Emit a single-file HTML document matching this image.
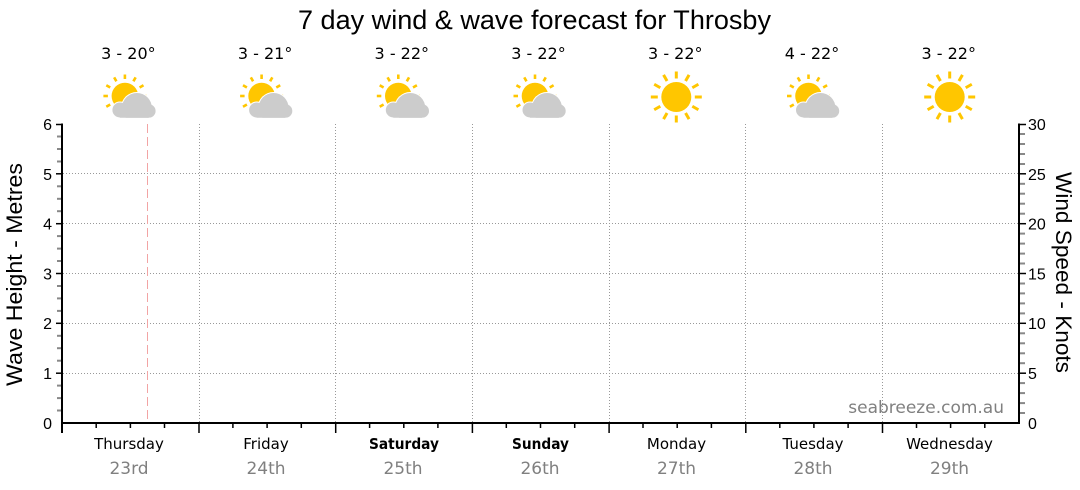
<!DOCTYPE html>
<html>
<head>
<meta charset="utf-8">
<style>
  html, body { margin: 0; padding: 0; background: #ffffff; }
  svg { display: block; }
  .lib { font-family: "Liberation Sans", Arial, sans-serif; }
  .dv { font-family: "DejaVu Sans", Verdana, sans-serif; }
</style>
</head>
<body>
<svg width="1080" height="490" viewBox="0 0 1080 490" xmlns="http://www.w3.org/2000/svg">
  <defs>
    <clipPath id="cclip"><rect x="-20" y="-20" width="60" height="41.7"/></clipPath>
    <clipPath id="cclip2"><rect x="-20" y="-20" width="60" height="42.7"/></clipPath>
    <g id="pc">
      <g stroke="#ffc600" stroke-width="2.6" stroke-linecap="butt">
        <line x1="0" y1="-17" x2="0" y2="-21.5"/>
        <line x1="8.5" y1="-14.7" x2="10.75" y2="-18.6"/>
        <line x1="14.7" y1="-8.5" x2="18.6" y2="-10.75"/>
        <line x1="17" y1="0" x2="21.5" y2="0"/>
        <line x1="-8.5" y1="-14.7" x2="-10.75" y2="-18.6"/>
        <line x1="-14.7" y1="-8.5" x2="-18.6" y2="-10.75"/>
        <line x1="-17" y1="0" x2="-21.5" y2="0"/>
        <line x1="-14.7" y1="8.5" x2="-18.6" y2="10.75"/>
        <line x1="-8.5" y1="14.7" x2="-10.75" y2="18.6"/>
      </g>
      <circle cx="0" cy="0" r="13.3" fill="#ffc600"/>
      <g fill="#ffffff" clip-path="url(#cclip2)">
        <circle cx="12" cy="12" r="16"/>
        <circle cx="-5" cy="14" r="8.5"/>
        <circle cx="24" cy="15" r="7.7"/>
      </g>
      <g fill="#cccccc" clip-path="url(#cclip)">
        <circle cx="12" cy="12" r="15"/>
        <circle cx="-5" cy="14" r="7.5"/>
        <circle cx="24" cy="15" r="6.7"/>
        <rect x="-5" y="12" width="29" height="10"/>
      </g>
    </g>
    <g id="sun">
      <g stroke="#ffc600" stroke-width="3">
        <line x1="0" y1="-18.5" x2="0" y2="-25.5"/>
        <line x1="9.25" y1="-16" x2="12.75" y2="-22.1"/>
        <line x1="16" y1="-9.25" x2="22.1" y2="-12.75"/>
        <line x1="18.5" y1="0" x2="25.5" y2="0"/>
        <line x1="16" y1="9.25" x2="22.1" y2="12.75"/>
        <line x1="9.25" y1="16" x2="12.75" y2="22.1"/>
        <line x1="0" y1="18.5" x2="0" y2="25.5"/>
        <line x1="-9.25" y1="16" x2="-12.75" y2="22.1"/>
        <line x1="-16" y1="9.25" x2="-22.1" y2="12.75"/>
        <line x1="-18.5" y1="0" x2="-25.5" y2="0"/>
        <line x1="-16" y1="-9.25" x2="-22.1" y2="-12.75"/>
        <line x1="-9.25" y1="-16" x2="-12.75" y2="-22.1"/>
      </g>
      <circle cx="0" cy="0" r="15" fill="#ffc600"/>
    </g>
  </defs>

  <!-- Title -->
  <text class="lib" x="298" y="29" font-size="27" fill="#000" textLength="473" lengthAdjust="spacingAndGlyphs">7 day wind &amp; wave forecast for Throsby</text>

  <!-- Temps -->
  <g class="dv" font-size="16" fill="#000" text-anchor="middle">
    <text x="128.4" y="59">3 - 20°</text>
    <text x="265.1" y="59">3 - 21°</text>
    <text x="401.8" y="59">3 - 22°</text>
    <text x="538.5" y="59">3 - 22°</text>
    <text x="675.3" y="59">3 - 22°</text>
    <text x="812" y="59">4 - 22°</text>
    <text x="948.7" y="59">3 - 22°</text>
  </g>

  <!-- Icons -->
  <use href="#pc" x="124.9" y="96"/>
  <use href="#pc" x="261.6" y="96"/>
  <use href="#pc" x="398.3" y="96"/>
  <use href="#pc" x="535" y="96"/>
  <use href="#sun" x="676.3" y="97"/>
  <use href="#pc" x="808.5" y="96"/>
  <use href="#sun" x="949.7" y="97"/>

  <!-- Horizontal grid -->
  <g stroke="#999" stroke-width="1" stroke-dasharray="1,2">
    <line x1="63" y1="173.5" x2="1018" y2="173.5"/>
    <line x1="63" y1="223.5" x2="1018" y2="223.5"/>
    <line x1="63" y1="273.5" x2="1018" y2="273.5"/>
    <line x1="63" y1="323.5" x2="1018" y2="323.5"/>
    <line x1="63" y1="373.5" x2="1018" y2="373.5"/>
  </g>
  <!-- Vertical grid -->
  <g stroke="#999" stroke-width="1" stroke-dasharray="1,2">
    <line x1="199.5" y1="124" x2="199.5" y2="422"/>
    <line x1="335.5" y1="124" x2="335.5" y2="422"/>
    <line x1="472.5" y1="124" x2="472.5" y2="422"/>
    <line x1="609.5" y1="124" x2="609.5" y2="422"/>
    <line x1="745.5" y1="124" x2="745.5" y2="422"/>
    <line x1="882.5" y1="124" x2="882.5" y2="422"/>
  </g>
  <!-- Now line -->
  <line x1="147.5" y1="124" x2="147.5" y2="422" stroke="#f2a4a4" stroke-width="1" stroke-dasharray="9,4"/>

  <!-- Left axis minor ticks -->
  <g stroke="#888" stroke-width="2">
    <line x1="57" y1="136.5" x2="62" y2="136.5"/>
    <line x1="57" y1="149" x2="62" y2="149"/>
    <line x1="57" y1="161.5" x2="62" y2="161.5"/>
    <line x1="57" y1="186.3" x2="62" y2="186.3"/>
    <line x1="57" y1="198.8" x2="62" y2="198.8"/>
    <line x1="57" y1="211.2" x2="62" y2="211.2"/>
    <line x1="57" y1="236.1" x2="62" y2="236.1"/>
    <line x1="57" y1="248.6" x2="62" y2="248.6"/>
    <line x1="57" y1="261" x2="62" y2="261"/>
    <line x1="57" y1="286" x2="62" y2="286"/>
    <line x1="57" y1="298.4" x2="62" y2="298.4"/>
    <line x1="57" y1="310.9" x2="62" y2="310.9"/>
    <line x1="57" y1="335.8" x2="62" y2="335.8"/>
    <line x1="57" y1="348.2" x2="62" y2="348.2"/>
    <line x1="57" y1="360.7" x2="62" y2="360.7"/>
    <line x1="57" y1="385.6" x2="62" y2="385.6"/>
    <line x1="57" y1="398.1" x2="62" y2="398.1"/>
    <line x1="57" y1="410.5" x2="62" y2="410.5"/>
  </g>
  <!-- Left axis major ticks -->
  <g stroke="#000" stroke-width="1.5">
    <line x1="56" y1="124.5" x2="62" y2="124.5"/>
    <line x1="56" y1="173.8" x2="62" y2="173.8"/>
    <line x1="56" y1="223.7" x2="62" y2="223.7"/>
    <line x1="56" y1="273.5" x2="62" y2="273.5"/>
    <line x1="56" y1="323.3" x2="62" y2="323.3"/>
    <line x1="56" y1="373.2" x2="62" y2="373.2"/>
  </g>

  <!-- Right axis ticks -->
  <g stroke="#888" stroke-width="2">
    <line x1="1019" y1="134" x2="1025" y2="134"/>
    <line x1="1019" y1="144" x2="1025" y2="144"/>
    <line x1="1019" y1="154" x2="1025" y2="154"/>
    <line x1="1019" y1="164" x2="1025" y2="164"/>
    <line x1="1019" y1="183.8" x2="1025" y2="183.8"/>
    <line x1="1019" y1="193.7" x2="1025" y2="193.7"/>
    <line x1="1019" y1="203.7" x2="1025" y2="203.7"/>
    <line x1="1019" y1="213.7" x2="1025" y2="213.7"/>
    <line x1="1019" y1="233.6" x2="1025" y2="233.6"/>
    <line x1="1019" y1="243.6" x2="1025" y2="243.6"/>
    <line x1="1019" y1="253.6" x2="1025" y2="253.6"/>
    <line x1="1019" y1="263.5" x2="1025" y2="263.5"/>
    <line x1="1019" y1="283.5" x2="1025" y2="283.5"/>
    <line x1="1019" y1="293.4" x2="1025" y2="293.4"/>
    <line x1="1019" y1="303.4" x2="1025" y2="303.4"/>
    <line x1="1019" y1="313.4" x2="1025" y2="313.4"/>
    <line x1="1019" y1="333.3" x2="1025" y2="333.3"/>
    <line x1="1019" y1="343.3" x2="1025" y2="343.3"/>
    <line x1="1019" y1="353.3" x2="1025" y2="353.3"/>
    <line x1="1019" y1="363.2" x2="1025" y2="363.2"/>
    <line x1="1019" y1="383.1" x2="1025" y2="383.1"/>
    <line x1="1019" y1="393.1" x2="1025" y2="393.1"/>
    <line x1="1019" y1="403.1" x2="1025" y2="403.1"/>
    <line x1="1019" y1="413" x2="1025" y2="413"/>
  </g>
  <g stroke="#000" stroke-width="1.5">
    <line x1="1019" y1="124.5" x2="1026" y2="124.5"/>
    <line x1="1019" y1="173.8" x2="1026" y2="173.8"/>
    <line x1="1019" y1="223.7" x2="1026" y2="223.7"/>
    <line x1="1019" y1="273.5" x2="1026" y2="273.5"/>
    <line x1="1019" y1="323.3" x2="1026" y2="323.3"/>
    <line x1="1019" y1="373.2" x2="1026" y2="373.2"/>
  </g>

  <!-- X axis ticks -->
  <g stroke="#000" stroke-width="1.5">
    <line x1="96.2" y1="423" x2="96.2" y2="428"/>
    <line x1="130.4" y1="423" x2="130.4" y2="428"/>
    <line x1="164.5" y1="423" x2="164.5" y2="428"/>
    <line x1="199" y1="423" x2="199" y2="433"/>
    <line x1="232.9" y1="423" x2="232.9" y2="428"/>
    <line x1="267.1" y1="423" x2="267.1" y2="428"/>
    <line x1="301.3" y1="423" x2="301.3" y2="428"/>
    <line x1="335.7" y1="423" x2="335.7" y2="433"/>
    <line x1="369.6" y1="423" x2="369.6" y2="428"/>
    <line x1="403.8" y1="423" x2="403.8" y2="428"/>
    <line x1="437.9" y1="423" x2="437.9" y2="428"/>
    <line x1="472.4" y1="423" x2="472.4" y2="433"/>
    <line x1="506.3" y1="423" x2="506.3" y2="428"/>
    <line x1="540.5" y1="423" x2="540.5" y2="428"/>
    <line x1="574.7" y1="423" x2="574.7" y2="428"/>
    <line x1="609.1" y1="423" x2="609.1" y2="433"/>
    <line x1="643" y1="423" x2="643" y2="428"/>
    <line x1="677.2" y1="423" x2="677.2" y2="428"/>
    <line x1="711.4" y1="423" x2="711.4" y2="428"/>
    <line x1="745.8" y1="423" x2="745.8" y2="433"/>
    <line x1="779.8" y1="423" x2="779.8" y2="428"/>
    <line x1="813.9" y1="423" x2="813.9" y2="428"/>
    <line x1="848.1" y1="423" x2="848.1" y2="428"/>
    <line x1="882.5" y1="423" x2="882.5" y2="433"/>
    <line x1="916.5" y1="423" x2="916.5" y2="428"/>
    <line x1="950.6" y1="423" x2="950.6" y2="428"/>
    <line x1="984.8" y1="423" x2="984.8" y2="428"/>
  </g>

  <!-- Axes lines -->
  <g stroke="#000" stroke-width="2" fill="none">
    <line x1="62" y1="123.5" x2="62" y2="433"/>
    <line x1="61" y1="423" x2="1020" y2="423"/>
    <line x1="1019" y1="123.5" x2="1019" y2="424"/>
  </g>

  <!-- Left tick labels -->
  <g class="lib" font-size="16" fill="#000" text-anchor="end">
    <text x="52" y="130">6</text>
    <text x="52" y="180">5</text>
    <text x="52" y="229.5">4</text>
    <text x="52" y="279.5">3</text>
    <text x="52" y="329">2</text>
    <text x="52" y="379">1</text>
    <text x="52" y="429">0</text>
  </g>
  <!-- Right tick labels -->
  <g class="lib" font-size="16" fill="#000">
    <text x="1028" y="130">30</text>
    <text x="1028" y="180">25</text>
    <text x="1028" y="229.5">20</text>
    <text x="1028" y="279.5">15</text>
    <text x="1028" y="329">10</text>
    <text x="1028" y="379">5</text>
    <text x="1028" y="429">0</text>
  </g>

  <!-- Axis titles -->
  <text class="lib" font-size="22" fill="#000" text-anchor="middle" transform="translate(22,274.5) rotate(-90)" textLength="223" lengthAdjust="spacingAndGlyphs">Wave Height - Metres</text>
  <text class="lib" font-size="22" fill="#000" text-anchor="middle" transform="translate(1056,272.5) rotate(90)" textLength="201" lengthAdjust="spacingAndGlyphs">Wind Speed - Knots</text>

  <!-- Watermark -->
  <text class="dv" x="1004" y="413" font-size="17" fill="#808080" text-anchor="end">seabreeze.com.au</text>

  <!-- Day labels -->
  <g class="dv" font-size="15" fill="#000" text-anchor="middle">
    <text x="129" y="449">Thursday</text>
    <text x="266" y="449">Friday</text>
    <text x="404" y="449" font-weight="bold" textLength="70" lengthAdjust="spacingAndGlyphs">Saturday</text>
    <text x="540.5" y="449" font-weight="bold" textLength="57" lengthAdjust="spacingAndGlyphs">Sunday</text>
    <text x="676.5" y="449">Monday</text>
    <text x="813" y="449">Tuesday</text>
    <text x="949.5" y="449">Wednesday</text>
  </g>
  <g class="dv" font-size="17" fill="#808080" text-anchor="middle">
    <text x="129" y="474">23rd</text>
    <text x="266" y="474">24th</text>
    <text x="403" y="474">25th</text>
    <text x="540" y="474">26th</text>
    <text x="676.5" y="474">27th</text>
    <text x="813" y="474">28th</text>
    <text x="949.5" y="474">29th</text>
  </g>
</svg>
</body>
</html>
